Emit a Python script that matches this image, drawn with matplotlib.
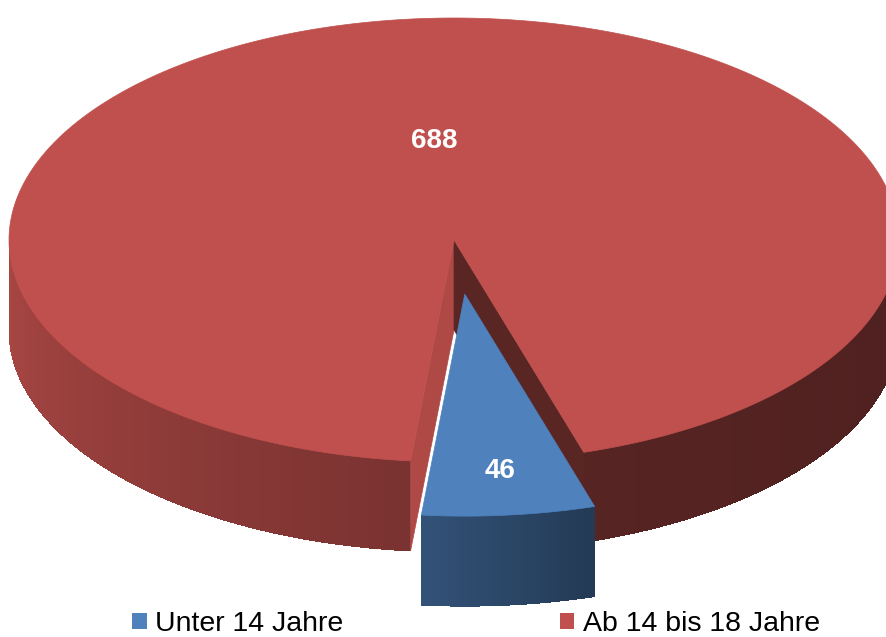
import numpy as np
import matplotlib

matplotlib.use("Agg")
import matplotlib.pyplot as plt
from matplotlib.patches import Polygon, Patch

# data
labels = ["Unter 14 Jahre", "Ab 14 bis 18 Jahre"]
values = [46, 688]
colors = ["#4F81BD", "#C0504D"]
explode = [0.245, 0.0]
label_radius = [0.80, 0.45]

# 3d pie geometry (pixels)
CX, CY = 454, 240
RX, RY = 445, 222
DEPTH = 90
START = -95.6

plt.rcParams["font.family"] = ["Liberation Sans", "DejaVu Sans"]


def to_rgb(hexcol):
    return np.array(matplotlib.colors.to_rgb(hexcol))


def shade(base, angle):
    # darker towards the right side, lit from the left
    f = np.interp(angle % 360, [180, 265, 287, 360], [0.89, 0.63, 0.45, 0.40])
    return tuple(np.clip(to_rgb(base) * f, 0, 1))


def point(cx, cy, ang, r=1.0, z=0.0):
    t = np.radians(ang)
    return cx + r * RX * np.cos(t), cy - r * RY * np.sin(t) + z


def draw_wall(ax, cx, cy, a0, a1, base):
    # front-facing outer wall between a0 and a1 (ccw, degrees)
    shift = (a0 % 360) - a0
    a0, a1 = a0 + shift, a1 + shift
    for lo, hi in [(180, 360), (540, 720)]:
        s, e = max(a0, lo), min(a1, hi)
        if e <= s:
            continue
        edges = np.linspace(s, e, int((e - s) * 2) + 2)
        # smooth outline underneath, then unsmoothed strips for the shading
        outline = [point(cx, cy, a) for a in edges] + \
                  [point(cx, cy, a, z=DEPTH) for a in edges[::-1]]
        ax.add_patch(Polygon(outline, closed=True, facecolor=shade(base, (s + e) / 2),
                             edgecolor="none"))
        for u, v in zip(edges[:-1], edges[1:]):
            col = shade(base, (u + v) / 2)
            quad = [point(cx, cy, u), point(cx, cy, v),
                    point(cx, cy, v, z=DEPTH), point(cx, cy, u, z=DEPTH)]
            ax.add_patch(Polygon(quad, closed=True, facecolor=col, edgecolor="none",
                                 antialiased=False))


def draw_cut(ax, cx, cy, ang, col):
    face = [(cx, cy), point(cx, cy, ang), point(cx, cy, ang, z=DEPTH), (cx, cy + DEPTH)]
    ax.add_patch(Polygon(face, closed=True, facecolor=col, edgecolor=col, linewidth=0.5))


def draw_top(ax, cx, cy, a0, a1, col):
    arc = [point(cx, cy, a) for a in np.linspace(a0, a1, 400)]
    ax.add_patch(Polygon([(cx, cy)] + arc, closed=True, facecolor=col, edgecolor=col, linewidth=0.5))


fig = plt.figure(figsize=(8.87, 6.37), dpi=100)
ax = fig.add_axes([0, 0, 1, 1])
ax.set_xlim(0, 887)
ax.set_ylim(637, 0)
ax.axis("off")

total = sum(values)
spans = [v / total * 360 for v in values]
starts = [START + sum(spans[:i]) for i in range(len(values))]

# slice geometry
slices = []
for i, (st, sp) in enumerate(zip(starts, spans)):
    mid = st + sp / 2
    ox, oy = point(0, 0, mid, r=explode[i])
    slices.append((CX + ox, CY + oy, st, st + sp, mid))

# red (large) slice first, exploded small one on top
red = 1
cx, cy, a0, a1, mid = slices[red]
draw_wall(ax, cx, cy, a0, a1, colors[red])
draw_cut(ax, cx, cy, a1, tuple(to_rgb(colors[red]) * 0.91))
draw_cut(ax, cx, cy, a0, tuple(to_rgb(colors[red]) * 0.47))
draw_top(ax, cx, cy, a0, a1, colors[red])

blue = 0
bx, by, b0, b1, bmid = slices[blue]
draw_wall(ax, bx, by, b0, b1, colors[blue])
draw_top(ax, bx, by, b0, b1, colors[blue])

for i, (sx, sy, s0, s1, smid) in enumerate(slices):
    lx, ly = point(sx, sy, smid, r=label_radius[i])
    ax.text(lx, ly, str(values[i]), color="white", fontsize=20, fontweight="bold",
            ha="center", va="center")

handles = [Patch(facecolor=c, edgecolor="none") for c in colors]
ax.legend(handles, labels, loc="center", bbox_to_anchor=(476 / 887, 1 - 624 / 637),
          ncol=2, frameon=False, fontsize=20.5, handlelength=0.5, handleheight=0.5,
          handletextpad=0.3, columnspacing=7.6, borderpad=0, borderaxespad=0)

fig.savefig("out.png", dpi=100)
plt.close(fig)
